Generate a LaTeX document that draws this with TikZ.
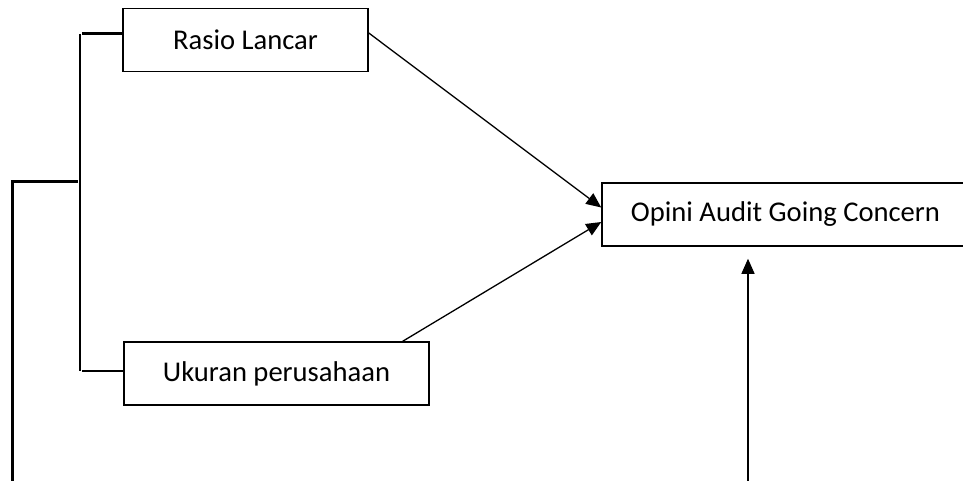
\documentclass[tikz,border=0pt]{standalone}
\usepackage{fontspec}
\setmainfont{Carlito}
\usepackage{tikz}
\usetikzlibrary{arrows.meta,positioning}
\tikzstyle{box} = [rectangle, draw=black, line width=1.5pt, fill=white, text=black, font=\fontsize{28.6}{34}\selectfont, minimum height=63pt, inner sep=0pt]
\tikzstyle{tedge} = [draw, line width=1.3pt, -{Triangle[length=15pt,width=13pt]}]
\tikzstyle{brace} = [draw, line width=2.6pt]

\begin{document}
\begin{tikzpicture}[x=1pt,y=-1pt]
\useasboundingbox (0,0) rectangle (963,481);

% variables =============================
\node[box, minimum width=245pt] (rasio) at (245.5,40) {Rasio Lancar};
\node[box, minimum width=305pt, below=269pt of rasio.south west, anchor=north west, xshift=1pt] (ukuran) {Ukuran perusahaan};
\node[box, minimum width=367pt] (opini) at (785.5,214.5) {Opini Audit Going Concern};

% bracket
\coordinate (kt) at (82,33.5);
\coordinate (kb) at (82,371);
\coordinate (vt) at (80,34);
\coordinate (vb) at (80,371);
\coordinate (km) at (78,182);
\coordinate (kl) at (12,182);
\coordinate (kd) at (12,483);
\coordinate (fb) at (748,483);

% edges
\path[brace] (kt) -- (kt -| rasio.west);
\path[brace] (kb) -- (kb -| ukuran.west);
\path[draw, line width=1.6pt] (vt) -- (vb);
\path[brace, line width=3pt] (km) -- (kl) -- (kd);
\path[tedge] ([yshift=7pt]rasio.east) -- ([yshift=7pt]opini.west);
\path[tedge] ([xshift=-27pt]ukuran.north east) -- ([yshift=-7.5pt]opini.west);
\path[tedge, shorten >=12pt] (fb) -- (fb |- opini.south);

\end{tikzpicture}
\end{document}
